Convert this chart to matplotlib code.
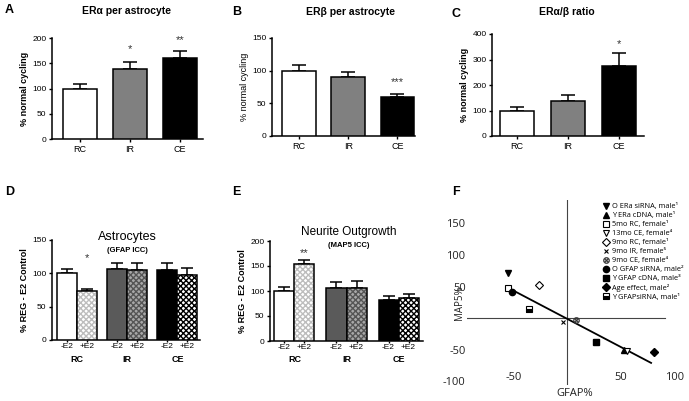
import matplotlib.pyplot as plt
import matplotlib.transforms as mtransforms
import numpy as np

plt.rcParams['font.family'] = ['Liberation Sans', 'DejaVu Sans']

groups = ["RC", "IR", "CE"]

# A-C: % normal cycling
era_mean = [100, 138, 160]
era_sem = [8, 15, 14]
era_sig = ["", "*", "**"]
era_sig_y = [0, 178, 196]

erb_mean = [100, 90, 60]
erb_sem = [8, 8, 5]
erb_sig = ["", "", "***"]
erb_sig_y = [0, 0, 82]

ratio_mean = [100, 137, 273]
ratio_sem = [15, 23, 52]
ratio_sig = ["", "", "*"]
ratio_sig_y = [0, 0, 360]

# D-E: % REG - E2 control (-E2 / +E2 within each group)
astro_minus = [100, 106, 105]
astro_minus_sem = [7, 9, 11]
astro_plus = [74, 105, 97]
astro_plus_sem = [3, 10, 11]
astro_sig = ["*", "", ""]
astro_sig_y = [123, 0, 0]

neur_minus = [100, 107, 82]
neur_minus_sem = [8, 12, 8]
neur_plus = [155, 107, 87]
neur_plus_sem = [8, 13, 8]
neur_sig = ["**", "", ""]
neur_sig_y = [176, 0, 0]

# F: GFAP% vs MAP5%
studies = ["O ERa siRNA, male¹", "Y ERa cDNA, male¹", "5mo RC, female¹",
           "13mo CE, female⁴", "9mo RC, female¹", "9mo IR, female⁵",
           "9mo CE, female⁴", "O GFAP siRNA, male²", "Y GFAP cDNA, male³",
           "Age effect, male²", "Y GFAPsiRNA, male¹"]
gfap = [-55, 53, -55, 56, -26, -4, 8, -51, 27, 81, -35]
map5 = [71, -51, 48, -52, 52, -6, -3, 41, -38, -54, 14]
fit_x = [-56, 78]
fit_y = [49, -71]

fig = plt.figure(figsize=(6.89, 4.01), dpi=100)
W, H = 689, 401


def add_axes(left, top, right, bottom):
    return fig.add_axes([left / W, 1 - bottom / H, (right - left) / W, (bottom - top) / H])


def ftext(x, y, s, **kw):
    kw.setdefault("ha", "center")
    kw.setdefault("va", "center")
    return fig.text(x / W, 1 - y / H, s, **kw)


def style_bar_axes(ax, ylim, yticks):
    ax.set_ylim(*ylim)
    ax.set_yticks(yticks)
    for s in ["top", "right"]:
        ax.spines[s].set_visible(False)
    for s in ["left", "bottom"]:
        ax.spines[s].set_linewidth(1.1)
    ax.tick_params(axis="both", length=2.5, width=1, labelsize=6, pad=1.5)


def mark_sig(ax, x, sig, sig_y, size=8):
    for xi, s, y in zip(x, sig, sig_y):
        if s:
            ax.text(xi, y, s, ha="center", va="center", fontsize=size, color="#333333")


def simple_panel(rect, xlim, ylim, yticks, means, sems, sig, sig_y, title, title_xy,
                 letter, letter_xy, label_weight="bold"):
    ax = add_axes(*rect)
    x = np.arange(len(groups))
    colors = ["white", "#808080", "black"]
    ax.bar(x, means, width=0.68, color=colors, edgecolor="black", linewidth=1.1, zorder=3)
    ax.errorbar(x, means, yerr=[np.zeros(3), sems], fmt="none", ecolor="black",
                elinewidth=1.1, capsize=5, capthick=1.1, zorder=2)
    ax.set_xlim(*xlim)
    style_bar_axes(ax, ylim, yticks)
    ax.set_xticks(x)
    ax.set_xticklabels(groups, fontsize=6.5)
    ax.set_ylabel("% normal cycling", fontsize=6.5, fontweight=label_weight, labelpad=2)
    mark_sig(ax, x, sig, sig_y)
    ftext(*title_xy, title, fontsize=7.5, fontweight="bold")
    ftext(*letter_xy, letter, fontsize=9, fontweight="bold", ha="left")
    return ax


def hatched_bar(ax, x, h, w, face, hatch_col, hatch):
    ax.bar(x, h, width=w, color=face, edgecolor=hatch_col, hatch=hatch, linewidth=0, zorder=3)
    ax.bar(x, h, width=w, fill=False, edgecolor="black", linewidth=1.1, zorder=4)


def paired_panel(rect, xlim, ylim, yticks, minus, minus_sem, plus, plus_sem, sig, sig_y,
                 title, subtitle, title_xy, title_size, letter, letter_xy, width):
    ax = add_axes(*rect)
    x = np.arange(len(groups))
    xm = x - width / 2
    xp = x + width / 2
    minus_faces = ["white", "#5a5a5a", "black"]
    plus_faces = ["white", "#a8a8a8", "white"]
    plus_hatch = ["#bdbdbd", "#555555", "black"]
    ax.bar(xm, minus, width=width, color=minus_faces, edgecolor="black", linewidth=1.1, zorder=3)
    for i in range(len(groups)):
        hatched_bar(ax, xp[i], plus[i], width, plus_faces[i], plus_hatch[i], "xxxxxx")
    ax.errorbar(xm, minus, yerr=[np.zeros(3), minus_sem], fmt="none", ecolor="black",
                elinewidth=1.1, capsize=4, capthick=1.1, zorder=2)
    ax.errorbar(xp, plus, yerr=[np.zeros(3), plus_sem], fmt="none", ecolor="black",
                elinewidth=1.1, capsize=4, capthick=1.1, zorder=2)
    ax.set_xlim(*xlim)
    style_bar_axes(ax, ylim, yticks)
    ticks = np.ravel(np.column_stack([xm, xp]))
    ax.set_xticks(ticks)
    ax.set_xticklabels(["-E2", "+E2"] * 3, fontsize=6)
    ax.tick_params(axis="x", length=1.5, pad=1)
    ax.set_ylabel("% REG - E2 Control", fontsize=6.5, fontweight="bold", labelpad=2)
    trans = mtransforms.blended_transform_factory(ax.transData, ax.transAxes)
    for xi, g in zip(x, groups):
        ax.text(xi, -0.19, g, transform=trans, ha="center", va="center",
                fontsize=6.5, fontweight="bold")
    mark_sig(ax, xp, sig, sig_y)
    ftext(*title_xy, title, fontsize=title_size)
    ftext(title_xy[0], title_xy[1] + 13.5, subtitle, fontsize=5.5, fontweight="bold")
    ftext(*letter_xy, letter, fontsize=9, fontweight="bold", ha="left")
    return ax


simple_panel((52, 38, 203, 139), (-0.56, 2.46), (0, 200), [0, 50, 100, 150, 200],
             era_mean, era_sem, era_sig, era_sig_y, "ER\u03b1 per astrocyte", (127, 11),
             "A", (5, 10))
simple_panel((272, 38, 415, 136), (-0.55, 2.36), (0, 150), [0, 50, 100, 150],
             erb_mean, erb_sem, erb_sig, erb_sig_y, "ER\u03b2 per astrocyte", (350, 12),
             "B", (232, 12), label_weight="normal")
simple_panel((492, 34, 644, 136), (-0.49, 2.49), (0, 400), [0, 100, 200, 300, 400],
             ratio_mean, ratio_sem, ratio_sig, ratio_sig_y, "ER\u03b1/\u03b2 ratio", (567, 12),
             "C", (452, 14))

paired_panel((52, 240, 200, 340), (-0.5, 2.45), (0, 150), [0, 50, 100, 150],
             astro_minus, astro_minus_sem, astro_plus, astro_plus_sem, astro_sig, astro_sig_y,
             "Astrocytes", "(GFAP ICC)", (127, 237), 9, "D", (5, 192), 0.4)
paired_panel((270, 241, 423, 341), (-0.47, 2.47), (0, 200), [0, 50, 100, 150, 200],
             neur_minus, neur_minus_sem, neur_plus, neur_plus_sem, neur_sig, neur_sig_y,
             "Neurite Outgrowth", "(MAP5 ICC)", (349, 232), 8.5, "E", (232, 192), 0.385)

# F: scatter with trend line
fam = ["Open Sans", "DejaVu Sans"]
axf = add_axes(467, 200, 678, 385)
axf.set_xlim(-93, 103)
axf.set_ylim(-106, 187)
for s in axf.spines.values():
    s.set_visible(False)
axf.axhline(0, xmin=0, xmax=(91 + 93) / (103 + 93), color="#444444", linewidth=0.8)
axf.axvline(0, color="#444444", linewidth=0.8)
axf.plot(fit_x, fit_y, color="black", linewidth=1.3, zorder=2)

styles = [
    dict(marker="v", color="black", ms=4.5),
    dict(marker="^", color="black", ms=4.5),
    dict(marker="s", mfc="white", mec="black", ms=4.5, mew=0.8),
    dict(marker="v", mfc="white", mec="black", ms=4.5, mew=0.8),
    dict(marker="D", mfc="white", mec="black", ms=4.5, mew=0.8),
    dict(marker="x", color="black", ms=3, mew=0.8),
    dict(marker=r"$\otimes$", color="#333333", ms=4.5, mew=0.3),
    dict(marker="o", color="black", ms=4.5),
    dict(marker="s", color="black", ms=4.5),
    dict(marker="D", color="black", ms=4.5),
    dict(marker="s", mfc="black", mfcalt="white", fillstyle="bottom", mec="black", ms=4.5, mew=0.8),
]
for gx, my, lab, st in zip(gfap, map5, studies, styles):
    axf.plot([gx], [my], linestyle="none", label=lab, zorder=3, **st)

axf.set_xticks([-50, 50, 100])
axf.set_xticklabels(["-50", "50", "100"], family=fam, fontsize=8, color="#222222")
axf.set_yticks([-100, -50, 50, 100, 150])
axf.set_yticklabels(["-100", "-50", "50", "100", "150"], family=fam, fontsize=8, color="#222222")
axf.tick_params(axis="both", length=0)
axf.tick_params(axis="x", pad=-9)
axf.tick_params(axis="y", pad=1)
ftext(575, 394, "GFAP%", family=fam, fontsize=8, color="#222222")
ftext(459, 303, "MAP5%", family=fam, fontsize=7, rotation=90, color="#222222")
ftext(452, 192, "F", fontsize=9, fontweight="bold", ha="left")

leg = axf.legend(loc="upper left", bbox_to_anchor=(602 / W, 1 - 203 / H),
                 bbox_transform=fig.transFigure, frameon=False, prop={"family": fam, "size": 5.3},
                 labelspacing=0.25, handletextpad=0.3, handlelength=1.0, borderpad=0,
                 borderaxespad=0, markerscale=1.0)

fig.savefig("out.png", dpi=100)
